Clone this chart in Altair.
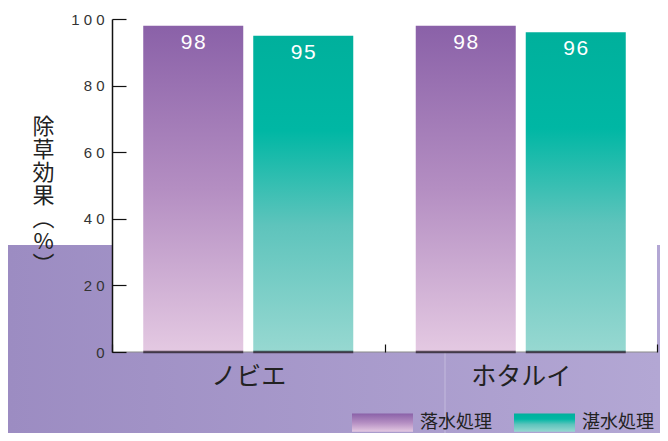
import altair as alt
import pandas as pd

categories = ["ノビエ", "ホタルイ"]
series = ["落水処理", "湛水処理"]
values_drained = [98, 98]
values_flooded = [95, 96]
y_ticks = [0, 20, 40, 60, 80, 100]
y_title = ["除", "草", "効", "果", "︵", "%", "︶"]

rows = []
for i, c in enumerate(categories):
    rows.append({"category": c, "series": series[0], "value": values_drained[i]})
    rows.append({"category": c, "series": series[1], "value": values_flooded[i]})
df = pd.DataFrame(rows)
one = pd.DataFrame({"k": [0]})

W, H = 545, 333
LEFT, TOP, RIGHT, BOTTOM = 104, 11, 3, 81

purple_grad = ("{gradient: 'linear', x1: 0, y1: 0, x2: 0, y2: 1, stops: ["
               "{offset: 0, color: '#8a61a8'}, {offset: 0.5, color: '#b48ec2'}, "
               "{offset: 1, color: '#e4c9e2'}]}")
teal_grad = ("{gradient: 'linear', x1: 0, y1: 0, x2: 0, y2: 1, stops: ["
             "{offset: 0, color: '#00b09c'}, {offset: 0.3, color: '#00b7a4'}, "
             "{offset: 0.6, color: '#5ec4bc'}, {offset: 1, color: '#97d8d1'}]}")

xscale = alt.Scale(domain=categories, paddingInner=0, paddingOuter=0)
yscale = alt.Scale(domain=[0, 100], nice=False)

bg = alt.Chart(one).mark_rect(
    color={"gradient": "linear", "x1": 0, "y1": 0, "x2": 1, "y2": 0,
           "stops": [{"offset": 0, "color": "#9c8cc2"}, {"offset": 1, "color": "#b3a7d4"}]}
).encode(x=alt.value(-LEFT), x2=alt.value(W + RIGHT), y=alt.value(226), y2=alt.value(H + BOTTOM))

white = alt.Chart(one).mark_rect(color="white").encode(
    x=alt.value(0), x2=alt.value(W), y=alt.value(0), y2=alt.value(H))

faint = alt.Chart(one).mark_rule(color="#c3badd", strokeWidth=1).encode(
    x=alt.value(333), y=alt.value(H), y2=alt.value(H + BOTTOM))

base_line = alt.Chart(one).mark_rule(color="#8a8a8a", strokeWidth=1.2).encode(
    y=alt.datum(0, scale=yscale), x=alt.value(0), x2=alt.value(W))

x_enc = alt.X("category:N", scale=xscale, sort=categories, title=None,
              axis=alt.Axis(labelAngle=0, labelFont="Noto Sans CJK JP", labelFontSize=25,
                            labelColor="#222222", labelPadding=20, domain=False,
                            tickBand="extent", tickSize={"expr": "-8"}, tickColor="#111111",
                            tickWidth=1.2, zindex=1))
xo_enc = alt.XOffset("series:N", sort=series,
                     scale=alt.Scale(domain=series, paddingInner=0.0909, paddingOuter=0.284))
y_enc = alt.Y("value:Q", scale=yscale,
              axis=alt.Axis(values=y_ticks, title=y_title, titleAngle=0,
                            titleFont="Noto Sans CJK JP", titleFontSize=22, titleFontWeight="normal",
                            titleColor="#222222", titleLineHeight=23, titleAlign="center",
                            titleBaseline="top", titleX=-69, titleY=97,
                            labelFont="Liberation Sans", labelFontSize=15, labelColor="#333333",
                            labelExpr="join(split(datum.label, ''), ' ')",
                            labelPadding=22, tickSize={"expr": "-14"}, tickColor="#111111",
                            tickWidth=1.2, domainColor="#111111", domainWidth=1.5,
                            grid=False, zindex=1))

bars = alt.Chart(df).mark_bar().encode(
    x=x_enc, xOffset=xo_enc, y=y_enc,
    color=alt.Color("series:N", sort=series,
                    scale=alt.Scale(domain=series,
                                    range=[{"expr": purple_grad}, {"expr": teal_grad}]),
                    legend=alt.Legend(title=None, orient="none", legendX=240, legendY=373,
                                      direction="horizontal",
                                      symbolType="M-1,-0.3L1,-0.3L1,0.3L-1,0.3Z",
                                      symbolSize=3721, symbolStrokeWidth=0,
                                      labelFont="Noto Sans CJK JP", labelFontSize=18,
                                      labelColor="#222222", labelOffset=7,
                                      columnPadding=22, padding=0, labelLimit=200))
)

bottoms = alt.Chart(df).mark_tick(color="#1c1420", thickness=2.5, size=100).encode(
    x="category:N", xOffset="series:N", y=alt.datum(0))

labels = alt.Chart(df).transform_calculate(
    lab="join(split(toString(datum.value), ''), '\u200a')"
).mark_text(color="white", font="Liberation Sans", fontSize=21, baseline="middle",
            align="center", dy=17).encode(
    x="category:N", xOffset="series:N", y="value:Q", text="lab:N")

chart = alt.layer(bg, white, faint, base_line, bars, bottoms, labels).properties(
    width=W, height=H,
    padding={"left": LEFT, "top": TOP, "right": RIGHT, "bottom": BOTTOM},
    autosize=alt.AutoSizeParams(type="none"),
    background="white",
).configure_view(stroke=None)

chart.save("out.html", embed_options={"renderer": "svg", "actions": False})
